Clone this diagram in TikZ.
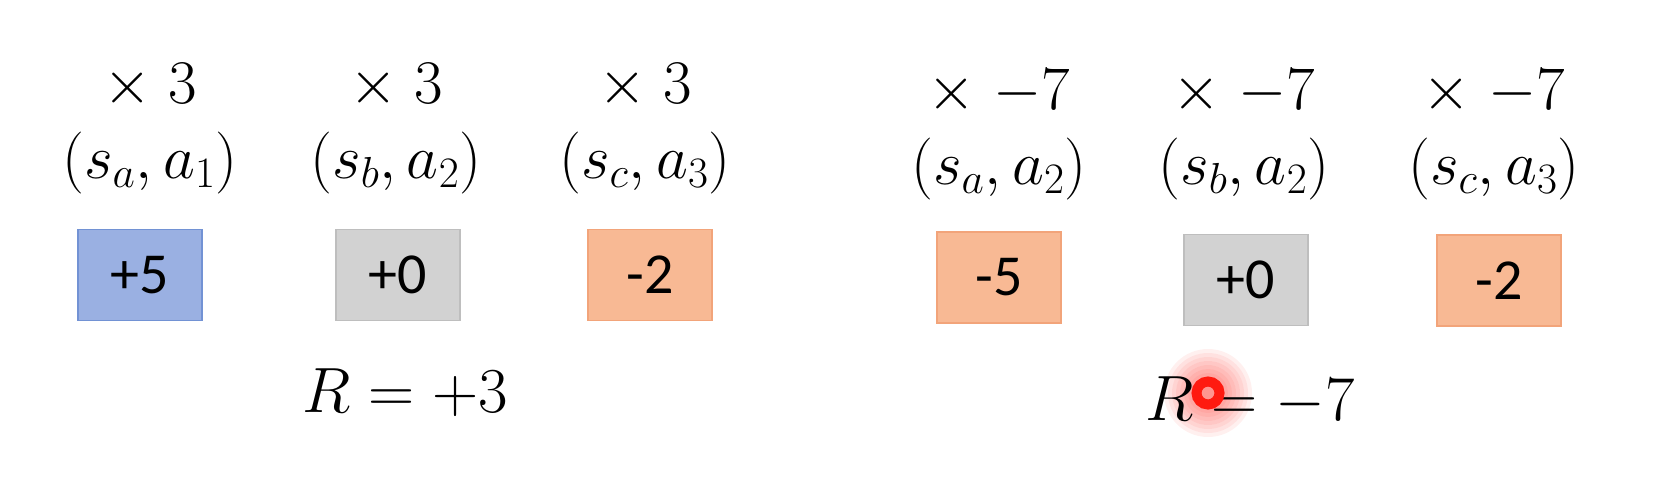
\RequirePackage{fix-cm}
\documentclass[tikz,border=0pt]{standalone}
\usepackage{fontspec}
\newfontfamily\rewardfont{Carlito}

\begin{document}
\begin{tikzpicture}[x=0.5pt, y=-0.5pt,
    mult/.style={anchor=base, font=\fontsize{31}{36}\selectfont},
    pair/.style={anchor=base, font=\fontsize{31}{36}\selectfont},
    reward/.style={draw, line width=0.8pt, minimum width=62pt, minimum height=45.5pt,
        inner sep=0pt, font=\rewardfont\fontsize{29}{34}\selectfont},
    total/.style={anchor=base, font=\fontsize{32}{38}\selectfont}]
    \definecolor{blueFill}{HTML}{9AB0E2}
    \definecolor{blueEdge}{HTML}{7292D4}
    \definecolor{greyFill}{HTML}{D2D2D2}
    \definecolor{greyEdge}{HTML}{BEBEBE}
    \definecolor{orangeFill}{HTML}{F8B994}
    \definecolor{orangeEdge}{HTML}{F2A47A}
    \definecolor{cursorRed}{HTML}{FF1A10}

    % Page size
    \useasboundingbox (0,0) rectangle (1676,482);

    % Cursor glow, behind the text
    \foreach \r in {6,8,...,22}
        \fill[cursorRed, opacity=0.065] (1208,393) circle (\r pt);

    % First episode, R = +3
    \foreach \i/\x/\pair in {1/150/{s_a,a_1}, 2/396/{s_b,a_2}, 3/645/{s_c,a_3}} {
        \node[mult] (multA\i) at (\x,103) {$\times\;3$};
        \node[pair] (pairA\i) at (\x,178) {$(\pair)$};
    }
    \foreach \i/\x/\val/\fc/\ec in {1/140/+5/blueFill/blueEdge, 2/398/+0/greyFill/greyEdge, 3/650/-2/orangeFill/orangeEdge}
        \node[reward, fill=\fc, draw=\ec] (boxA\i) at (\x,275) {\val};
    \node[total] (totalA) at (405,412) {$R = +3$};

    % Second episode, R = -7
    \foreach \i/\x/\pair in {1/999/{s_a,a_2}, 2/1244/{s_b,a_2}, 3/1494/{s_c,a_3}} {
        \node[mult] (multB\i) at (\x,109) {$\times\;{-7}$};
        \node[pair] (pairB\i) at (\x,184) {$(\pair)$};
    }
    \foreach \i/\x/\y/\val/\fc/\ec in {1/999/277.5/-5/orangeFill/orangeEdge, 2/1246/280/+0/greyFill/greyEdge, 3/1499/280.5/-2/orangeFill/orangeEdge}
        \node[reward, fill=\fc, draw=\ec] (boxB\i) at (\x,\y) {\val};
    \node[total] (totalB) at (1250,420) {$R = {-7}$};

    % Cursor ring
    \draw[cursorRed, line width=5pt] (1208,393) circle (5.75pt);
\end{tikzpicture}
\end{document}
